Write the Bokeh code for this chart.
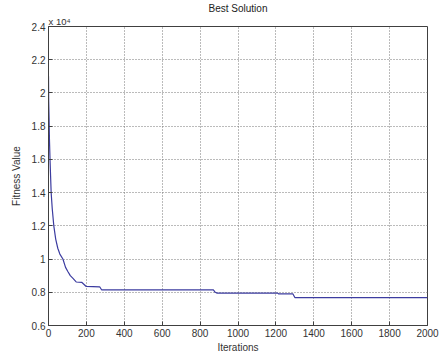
from bokeh.plotting import figure
from bokeh.models import Range1d, FixedTicker, CustomJSTickFormatter, Title
from bokeh.embed import file_html
from bokeh.resources import INLINE

# Data (fitness values in raw units)
iterations = [0, 1, 3, 5, 8, 11, 14, 20, 28, 38, 49, 60, 76, 90, 102, 115, 128, 140, 146,
              175, 185, 199, 270, 280, 870, 880, 890, 1210, 1215, 1290, 1300, 2000]
fitness = [21000, 19500, 18500, 17200, 16000, 15000, 14000, 13000, 12000, 11200, 10650,
           10300, 10000, 9500, 9250, 9000, 8850, 8700, 8620, 8600, 8500, 8350, 8330,
           8150, 8150, 8000, 7950, 7950, 7900, 7900, 7680, 7680]
x_ticks = [0, 200, 400, 600, 800, 1000, 1200, 1400, 1600, 1800, 2000]
y_ticks = [6000, 8000, 10000, 12000, 14000, 16000, 18000, 20000, 22000, 24000]

FONT = "Liberation Sans"
AX = "#404040"

p = figure(frame_width=379, frame_height=299, min_border_left=48, min_border_right=12,
           min_border_top=0, min_border_bottom=29,
           x_range=Range1d(0, 2000), y_range=Range1d(6000, 24000),
           output_backend="svg", toolbar_location=None, title=None,
           x_axis_label="Iterations", y_axis_label="Fitness Value")

p.line(iterations, fitness, line_color="#3c3ca0", line_width=1.2)

p.xaxis.ticker = FixedTicker(ticks=x_ticks)
p.yaxis.ticker = FixedTicker(ticks=y_ticks)
p.yaxis.formatter = CustomJSTickFormatter(code="return String(parseFloat((tick/1e4).toFixed(1)));")

for ax in (p.xaxis[0], p.yaxis[0]):
    ax.major_tick_in = 4
    ax.major_tick_out = 0
    ax.minor_tick_line_color = None
    ax.axis_line_color = AX
    ax.major_tick_line_color = AX
    ax.major_label_text_font = FONT
    ax.major_label_text_font_size = "10px"
    ax.major_label_text_color = "#333333"
    ax.axis_label_text_font = FONT
    ax.axis_label_text_font_size = "10px"
    ax.axis_label_text_font_style = "normal"
    ax.axis_label_text_color = "#333333"
p.xaxis.major_label_standoff = 3
p.xaxis.axis_label_standoff = 2
p.yaxis.major_label_standoff = 3
p.yaxis.axis_label_standoff = 7

main_title = Title(text="Best Solution", align="center", text_font=FONT, text_font_size="10px",
                   text_font_style="normal", text_color="#222222", standoff=0)
exp_title = Title(text="x 10⁴", align="left", text_font=FONT, text_font_size="9.5px",
                  text_font_style="normal", text_color="#333333", standoff=0)
p.above = [exp_title, main_title]

p.xgrid.ticker = FixedTicker(ticks=x_ticks)
p.ygrid.ticker = FixedTicker(ticks=y_ticks)
for g in (p.xgrid[0], p.ygrid[0]):
    g.grid_line_color = "#777777"
    g.grid_line_dash = "1 2"
    g.grid_line_width = 1

p.outline_line_color = AX
p.background_fill_color = "white"
p.border_fill_color = "white"

open("out.html", "w").write(file_html(p, INLINE))
